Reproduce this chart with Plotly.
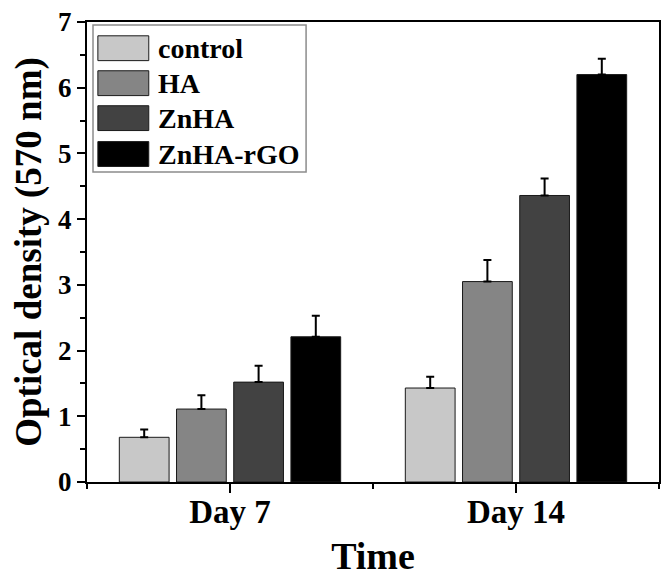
import plotly.graph_objects as go

categories = ["Day 7", "Day 14"]
series_names = ["control", "HA", "ZnHA", "ZnHA-rGO"]
control_vals = [0.68, 1.43]
ha_vals = [1.11, 3.05]
znha_vals = [1.52, 4.36]
znha_rgo_vals = [2.21, 6.20]
control_err = [0.12, 0.17]
ha_err = [0.21, 0.33]
znha_err = [0.25, 0.26]
znha_rgo_err = [0.32, 0.24]
y_ticks = [0, 1, 2, 3, 4, 5, 6, 7]

values = [control_vals, ha_vals, znha_vals, znha_rgo_vals]
errors = [control_err, ha_err, znha_err, znha_rgo_err]
colors = ["#c8c8c8", "#858585", "#424242", "#000000"]

FONT = "Liberation Serif, Times New Roman, serif"
xpos = list(range(len(categories)))

fig = go.Figure()
for name, v, e, c in zip(series_names, values, errors, colors):
    fig.add_trace(go.Bar(
        x=xpos, y=v, name=name,
        marker=dict(color=c, line=dict(color="#1a1a1a", width=1)),
        error_y=dict(type="data", array=e, arrayminus=[0] * len(e), symmetric=False,
                     color="black", thickness=2, width=4),
        showlegend=False,
    ))

# custom legend (large swatches)
box_x0, box_x1 = 0.0105, 0.383
box_y1, box_y0 = 0.9935, 0.674
fig.add_shape(type="rect", xref="paper", yref="paper", x0=box_x0, x1=box_x1, y0=box_y0, y1=box_y1,
              line=dict(color="#8c8c8c", width=1.5), fillcolor="white", layer="above")
row_centers = [0.943, 0.867, 0.791, 0.713]
sw_h = 0.027
for name, c, yc in zip(series_names, colors, row_centers):
    fig.add_shape(type="rect", xref="paper", yref="paper", x0=0.019, x1=0.108,
                  y0=yc - sw_h, y1=yc + sw_h, fillcolor=c,
                  line=dict(color="#1a1a1a", width=1), layer="above")
    fig.add_annotation(xref="paper", yref="paper", x=0.12, y=yc, text="<b>%s</b>" % name,
                       showarrow=False, xanchor="left", yanchor="middle",
                       font=dict(family=FONT, size=28, color="black"))

fig.update_layout(
    width=664, height=575,
    margin=dict(l=79, r=13, t=14, b=101, autoexpand=False),
    plot_bgcolor="white", paper_bgcolor="white",
    barmode="group", bargap=0.2, bargroupgap=0.13,
    font=dict(family=FONT, color="black"),
)
fig.update_xaxes(
    automargin=False,
    range=[-0.5, len(categories) - 0.5],
    tickmode="array", tickvals=xpos, ticktext=["<b>%s</b>" % c for c in categories],
    tickfont=dict(family=FONT, size=33, color="black"),
    ticks="outside", ticklen=9, tickwidth=2, tickcolor="black",
    ticklabelstandoff=-10, ticklabeloverflow="allow",
    minor=dict(tickmode="array", tickvals=[-0.5, 0.5, 1.5], ticks="outside", ticklen=5,
               tickwidth=2, tickcolor="black"),
    showline=True, linewidth=2, linecolor="black", mirror=True,
    showgrid=False, zeroline=False,
    title=dict(text="<b>Time</b>", font=dict(family=FONT, size=38, color="black"), standoff=14),
)
fig.update_yaxes(
    automargin=False,
    range=[0, 7], tickmode="array", tickvals=y_ticks,
    ticktext=["<b>%d</b>" % t for t in y_ticks],
    tickfont=dict(family=FONT, size=27, color="black"),
    ticks="outside", ticklen=8, tickwidth=2, tickcolor="black",
    ticklabeloverflow="allow",
    minor=dict(dtick=0.5, ticks="outside", ticklen=5, tickwidth=2, tickcolor="black"),
    showline=True, linewidth=2, linecolor="black", mirror=True,
    showgrid=False, zeroline=False,
    title=dict(text="<b>Optical density (570 nm)</b>", font=dict(family=FONT, size=37, color="black"), standoff=6),
)

fig.write_html("out.html")
